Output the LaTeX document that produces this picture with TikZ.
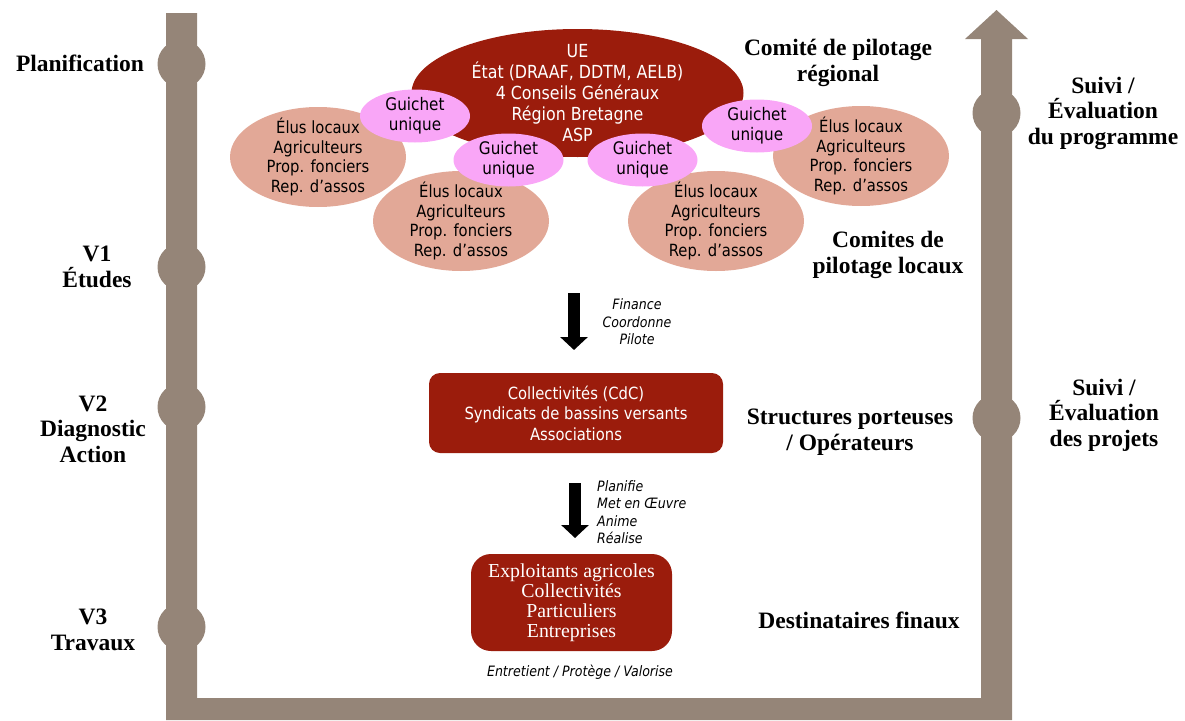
\documentclass[tikz,border=0pt]{standalone}
\usepackage{fontspec}
\setmainfont{Liberation Serif}
\usetikzlibrary{shapes.geometric,arrows.meta}
\newfontfamily\tah[FakeStretch=0.88]{DejaVu Sans}
\definecolor{barc}{HTML}{958578}
\definecolor{dred}{HTML}{9B1C0C}
\definecolor{salm}{HTML}{E2A897}
\definecolor{pinkg}{HTML}{F9A6F7}
\tikzset{
  lbl/.style={align=center, inner sep=0pt, font=\fontsize{23.5}{25.5}\selectfont\bfseries},
  sanstxt/.style={align=center, inner sep=0pt, font=\tah\fontsize{16.8}{19.5}\selectfont},
  itxt/.style={inner sep=0pt, font=\tah\itshape\fontsize{14.3}{17.5}\selectfont},
  bump/.style={circle, fill=barc, minimum size=48pt, inner sep=0pt},
  salmell/.style={ellipse, fill=salm, minimum width=176pt, minimum height=100pt, inner sep=0pt},
  guich/.style={ellipse, fill=pinkg, minimum width=110pt, minimum height=53pt, inner sep=0pt},
  bigarrow/.style={line width=12.5pt, -{Triangle[width=27pt,length=13pt]}},
}
\begin{document}
\begin{tikzpicture}[x=1pt,y=-1pt]
\useasboundingbox (0,0) rectangle (1185,720);
% frame bar
\fill[barc] (166,13) -- (197,13) -- (197,698) -- (981,698) -- (981,39) -- (965,39)
  -- (996.5,10) -- (1028,39) -- (1012,39) -- (1012,720) -- (166,720) -- cycle;
\node[bump] (p0) at (181.5,64) {};
\node[bump] (p1) at (181.5,267) {};
\node[bump] (p2) at (181.5,407) {};
\node[bump] (p3) at (181.5,627) {};
\node[bump] (q0) at (996.5,113) {};
\node[bump] (q1) at (996.5,418) {};
% left labels
\node[lbl] (l0) at (80,63) {Planification};
\node[lbl] (l1) at (97,267) {V1\\Études};
\node[lbl] (l2) at (93,429) {V2\\Diagnostic\\Action};
\node[lbl] (l3) at (93,630) {V3\\Travaux};
% right labels
\node[lbl] (r0) at (1103,113) {Suivi /\\Évaluation\\du programme};
\node[lbl] (r1) at (1104,415) {Suivi /\\Évaluation\\des projets};
\node[lbl] (c0) at (838,63) {Comité de pilotage\\régional};
\node[lbl] (c1) at (888,255) {Comites de\\pilotage locaux};
\node[lbl] (c2) at (850,432) {Structures porteuses\\/ Opérateurs};
\node[lbl] (c3) at (859,620) {Destinataires finaux};
% regional committee
\node[ellipse, fill=dred, minimum width=332pt, minimum height=128pt, inner sep=0pt] (big) at (577.5,93) {};
\node[sanstxt, text=white, font=\tah\fontsize{18}{21}\selectfont] (bigt) at (big) {UE\\État (DRAAF, DDTM, AELB)\\4 Conseils Généraux\\Région Bretagne\\ASP};
\node[salmell] (sa) at (318,157) {};
\node[salmell] (sd) at (861,156) {};
\node[salmell] (sb) at (461,221) {};
\node[salmell] (sc) at (716,221) {};
\foreach \n in {sa,sb,sc,sd}{
  \node[sanstxt] (\n t) at (\n) {Élus locaux\\Agriculteurs\\Prop. fonciers\\Rep. d’assos};
}
\node[guich] (g1) at (415,116) {};
\node[guich] (g2) at (508.5,160) {};
\node[guich] (g3) at (642.5,160) {};
\node[guich] (g4) at (757,126) {};
\foreach \n in {g1,g2,g3,g4}{
  \node[sanstxt, font=\tah\fontsize{17.3}{20}\selectfont] (\n t) at (\n) {Guichet\\unique};
}
% first arrow
\coordinate (a1s) at (574,293);
\coordinate (a1e) at (574,350);
\draw[bigarrow] (a1s) -- (a1e);
\node[itxt, align=center] (f1) at (637,322) {Finance\\Coordonne\\Pilote};
% operators box
\node[rectangle, rounded corners=11pt, fill=dred, minimum width=294pt, minimum height=80pt,
  text=white, sanstxt, font=\tah\fontsize{16.8}{20.5}\selectfont] (b1) at (576,413)
  {Collectivités (CdC)\\Syndicats de bassins versants\\Associations};
% second arrow
\coordinate (a2s) at (575,483);
\coordinate (a2e) at (575,538);
\draw[bigarrow] (a2s) -- (a2e);
\node[itxt, align=left, anchor=west] (f2) at (597,512) {Planifie\\Met en Œuvre\\Anime\\Réalise};
% final recipients box
\node[rectangle, rounded corners=20pt, fill=dred, minimum width=201pt, minimum height=97pt,
  text=white, align=center, inner sep=0pt, font=\fontsize{19.8}{20}\selectfont] (b2) at (571.5,602.5)
  {Exploitants agricoles\\Collectivités\\Particuliers\\Entreprises};
\node[itxt] (f3) at (580,672) {Entretient / Protège / Valorise};
\end{tikzpicture}
\end{document}
